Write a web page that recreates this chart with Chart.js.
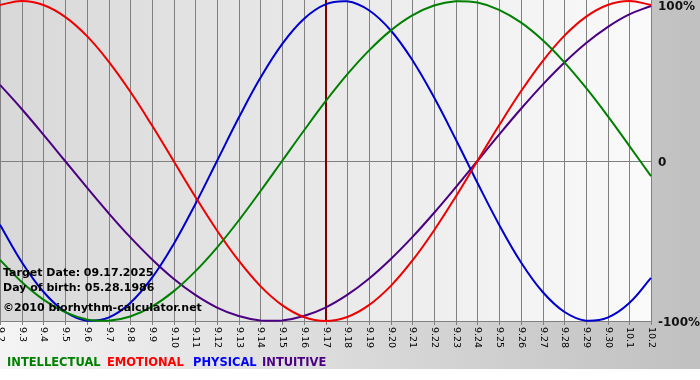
<!DOCTYPE html>
<html>
<head>
<meta charset="utf-8">
<script src="https://cdn.jsdelivr.net/npm/chart.js@4/dist/chart.umd.min.js"></script>
<style>
html,body{margin:0;padding:0;background:#fff;}
canvas{display:block;}
</style>
</head>
<body>
<canvas id="c" width="700" height="380"></canvas>
<script>
const dayLabels = ['9.2','9.3','9.4','9.5','9.6','9.7','9.8','9.9','9.10','9.11','9.12','9.13','9.14','9.15','9.16','9.17','9.18','9.19','9.20','9.21','9.22','9.23','9.24','9.25','9.26','9.27','9.28','9.29','9.30','10.1','10.2'];
const intellectual = [-0.618,-0.756,-0.866,-0.945,-0.990,-0.999,-0.972,-0.910,-0.815,-0.690,-0.541,-0.372,-0.189,0,0.189,0.372,0.541,0.690,0.815,0.910,0.972,0.999,0.990,0.945,0.866,0.756,0.618,0.458,0.282,0.095,-0.095];
const emotional = [0.975,1,0.975,0.901,0.782,0.623,0.434,0.223,0,-0.223,-0.434,-0.623,-0.782,-0.901,-0.975,-1,-0.975,-0.901,-0.782,-0.623,-0.434,-0.223,0,0.223,0.434,0.623,0.782,0.901,0.975,1,0.975];
const physical = [-0.398,-0.631,-0.817,-0.942,-0.998,-0.979,-0.888,-0.731,-0.520,-0.270,0,0.270,0.520,0.731,0.888,0.979,0.998,0.942,0.817,0.631,0.398,0.136,-0.136,-0.398,-0.631,-0.817,-0.942,-0.998,-0.979,-0.888,-0.731];
const intuitive = [0.476,0.325,0.165,0,-0.165,-0.325,-0.476,-0.614,-0.736,-0.837,-0.916,-0.969,-0.997,-0.997,-0.969,-0.916,-0.837,-0.736,-0.614,-0.476,-0.325,-0.165,0,0.165,0.325,0.476,0.614,0.736,0.837,0.916,0.969];
const yTickValues = [1, 0, -1];
const yTickLabels = ['100%', '0', '-100%'];
const seriesNames = ['INTELLECTUAL','EMOTIONAL','PHYSICAL','INTUITIVE'];
const targetLabel = '9.17';
const infoLines = ['Target Date: 09.17.2025', 'Day of birth: 05.28.1986', '\u00a92010 biorhythm-calculator.net'];

const lineColors = ['#008000', '#ee0000', '#0000cc', '#4b0082'];
const textColors = ['#008000', '#ff0000', '#0000ff', '#4b0082'];
const legendX = [7, 107, 193, 262];

const decor = {
  id: 'decor',
  beforeDraw(chart) {
    const ctx = chart.ctx;
    const a = chart.chartArea;
    const xs = chart.scales.x, ys = chart.scales.y;
    ctx.save();
    ctx.fillStyle = '#ffffff';
    ctx.fillRect(0, 0, chart.width, chart.height);
    const og = ctx.createLinearGradient(0, 0, chart.width, 0);
    og.addColorStop(0, '#f4f4f4');
    og.addColorStop(1, '#c0c0c0');
    ctx.fillStyle = og;
    ctx.fillRect(0, 0, chart.width, 369);
    const pg = ctx.createLinearGradient(a.left, 0, a.right, 0);
    pg.addColorStop(0, '#d8d8d8');
    pg.addColorStop(1, '#fafafa');
    ctx.fillStyle = pg;
    ctx.fillRect(a.left, a.top - 1, a.right - a.left + 1, a.bottom - a.top + 1);
    ctx.strokeStyle = '#808080';
    ctx.lineWidth = 1;
    for (let i = 0; i < dayLabels.length; i++) {
      const x = Math.round(xs.getPixelForValue(i)) + 0.5;
      ctx.beginPath();
      ctx.moveTo(x, a.top - 1);
      ctx.lineTo(x, a.bottom + 4);
      ctx.stroke();
    }
    [0, -1].forEach(v => {
      const y = Math.round(ys.getPixelForValue(v)) + 0.5;
      ctx.beginPath();
      ctx.moveTo(a.left, y);
      ctx.lineTo(a.right + 1, y);
      ctx.stroke();
    });
    ctx.restore();
  },
  beforeDatasetsDraw(chart) {
    const ctx = chart.ctx;
    const a = chart.chartArea;
    const xs = chart.scales.x;
    const ti = dayLabels.indexOf(targetLabel);
    const x = Math.round(xs.getPixelForValue(ti));
    ctx.save();
    ctx.strokeStyle = '#800000';
    ctx.lineWidth = 2;
    ctx.beginPath();
    ctx.moveTo(x, a.top - 1);
    ctx.lineTo(x, a.bottom);
    ctx.stroke();
    ctx.restore();
  },
  afterDraw(chart) {
    const ctx = chart.ctx;
    const a = chart.chartArea;
    const xs = chart.scales.x, ys = chart.scales.y;
    ctx.save();
    ctx.fillStyle = '#000';
    ctx.font = '9.5px "DejaVu Sans", Verdana, sans-serif';
    ctx.textAlign = 'left';
    ctx.textBaseline = 'middle';
    for (let i = 0; i < dayLabels.length; i++) {
      const x = xs.getPixelForValue(i);
      ctx.save();
      ctx.translate(x + 0.5, a.bottom + 6);
      ctx.rotate(Math.PI / 2);
      ctx.fillText(dayLabels[i], 0, 0);
      ctx.restore();
    }
    ctx.font = 'bold 12px "DejaVu Sans", Verdana, sans-serif';
    ctx.textBaseline = 'middle';
    ctx.fillStyle = '#111';
    yTickValues.forEach((v, k) => {
      let y = ys.getPixelForValue(v) + 2;
      if (v === 1) y = Math.max(y, 7);
      ctx.fillText(yTickLabels[k], a.right + 7, y);
    });
    ctx.font = 'bold 11px "DejaVu Sans", Verdana, sans-serif';
    ctx.textBaseline = 'alphabetic';
    ctx.fillStyle = '#000';
    const infoY = [276, 291, 311];
    infoLines.forEach((t, k) => ctx.fillText(t, 3, infoY[k]));
    ctx.font = 'bold 11.5px "DejaVu Sans", Verdana, sans-serif';
    seriesNames.forEach((n, k) => {
      ctx.fillStyle = textColors[k];
      ctx.fillText(n, legendX[k], 366);
    });
    ctx.restore();
  }
};

const seriesData = [intellectual, emotional, physical, intuitive];
new Chart(document.getElementById('c'), {
  type: 'line',
  data: {
    labels: dayLabels,
    datasets: seriesData.map((d, k) => ({
      label: seriesNames[k],
      data: d,
      borderColor: lineColors[k],
      borderWidth: 2,
      pointRadius: 0,
      tension: 0.4,
      fill: false,
      clip: 3
    }))
  },
  options: {
    responsive: false,
    animation: false,
    layout: { padding: { left: 0, top: 1, right: 49, bottom: 59 } },
    scales: {
      x: { display: false },
      y: { display: false, min: -1, max: 1 }
    },
    plugins: { legend: { display: false }, tooltip: { enabled: false } }
  },
  plugins: [decor]
});
</script>
</body>
</html>
